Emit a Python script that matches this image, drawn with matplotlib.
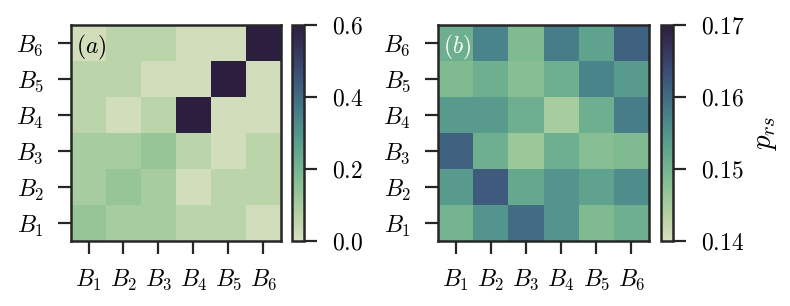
import numpy as np
import matplotlib
matplotlib.use("Agg")
import matplotlib.pyplot as plt
import seaborn as sns

labels = ["$B_1$", "$B_2$", "$B_3$", "$B_4$", "$B_5$", "$B_6$"]

# rows: B1 (bottom) .. B6 (top); columns B1..B6
corr_a = [
    [0.13, 0.10, 0.10, 0.06, 0.06, 0.01],  # B1
    [0.10, 0.13, 0.10, 0.01, 0.06, 0.06],  # B2
    [0.10, 0.10, 0.13, 0.06, 0.01, 0.06],  # B3
    [0.06, 0.01, 0.06, 0.60, 0.01, 0.01],  # B4
    [0.06, 0.06, 0.01, 0.01, 0.60, 0.01],  # B5
    [0.01, 0.06, 0.06, 0.01, 0.01, 0.60],  # B6
]
prob_b = [
    [0.150, 0.155, 0.160, 0.155, 0.149, 0.151],  # B1
    [0.154, 0.162, 0.152, 0.155, 0.153, 0.156],  # B2
    [0.161, 0.151, 0.146, 0.151, 0.148, 0.149],  # B3
    [0.154, 0.154, 0.151, 0.145, 0.151, 0.158],  # B4
    [0.149, 0.151, 0.148, 0.151, 0.157, 0.154],  # B5
    [0.151, 0.157, 0.149, 0.158, 0.153, 0.161],  # B6
]
ticks_a = [0.0, 0.2, 0.4, 0.6]
ticks_b = [0.14, 0.15, 0.16, 0.17]

plt.rcParams['mathtext.fontset'] = 'cm'
plt.rcParams['font.family'] = ['cmr10', 'DejaVu Serif']
plt.rcParams['axes.unicode_minus'] = False

cmap = sns.cubehelix_palette(start=.5, rot=-.75, as_cmap=True)

W, H = 790, 306
fig = plt.figure(figsize=(W / 100, H / 100), dpi=100)

def fr(x0, x1, ytop, ybot):
    return [x0 / W, 1 - ybot / H, (x1 - x0) / W, (ybot - ytop) / H]

spine_c = '#262626'
fs = 17

def style(ax):
    for s in ax.spines.values():
        s.set_linewidth(1.8)
        s.set_color(spine_c)
    ax.tick_params(length=9.5, width=1.6, color=spine_c, pad=10, labelsize=fs)

def panel(axpos, cpos, data, vmin, vmax, ticks, tag, tagc, clabel=None):
    ax = fig.add_axes(fr(*axpos))
    cax = fig.add_axes(fr(*cpos))
    arr = np.array(data)
    im = ax.pcolormesh(np.arange(7), np.arange(7), arr, cmap=cmap, vmin=vmin, vmax=vmax)
    ax.set_xlim(0, 6)
    ax.set_ylim(0, 6)
    ax.set_xticks(np.arange(6) + 0.5)
    ax.set_yticks(np.arange(6) + 0.5)
    ax.set_xticklabels(labels)
    ax.set_yticklabels(labels)
    style(ax)
    ax.text(0.025, 0.965, tag, transform=ax.transAxes, ha='left', va='top',
            fontsize=fs, color=tagc)
    cb = fig.colorbar(im, cax=cax, ticks=ticks)
    cb.outline.set_linewidth(1.8)
    cb.outline.set_edgecolor(spine_c)
    cax.tick_params(length=9, width=1.6, color=spine_c, pad=11, labelsize=fs)
    dec = 1 if vmax > 0.3 else 2
    cax.set_yticklabels(["$%.*f$" % (dec, t) for t in ticks])
    if clabel:
        cb.set_label(clabel, fontsize=21, labelpad=6)
    return ax

panel((71, 281, 25, 241), (292, 304, 25, 241), corr_a, 0.0, 0.6, ticks_a, "$(a)$", 'black')
panel((438, 649, 25, 241), (661, 673, 25, 241), prob_b, 0.14, 0.17, ticks_b, "$(b)$", 'white', "$p_{rs}$")

fig.savefig("out.png", dpi=100)
